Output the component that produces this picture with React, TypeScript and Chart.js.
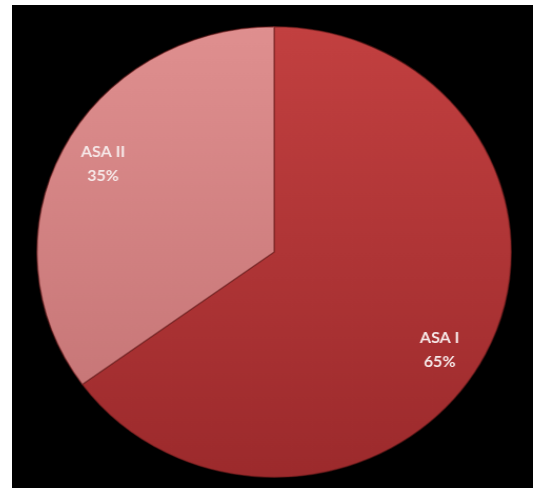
import React, { useEffect, useRef } from "react";
import { Chart, registerables } from "chart.js";

Chart.register(...registerables);

const categories = ["ASA I", "ASA II"];
const values = [65, 35];
const percentLabels = ["65%", "35%"];
const topColors = ["#c24040", "#df8f8f"];
const bottomColors = ["#9c2a2c", "#c27172"];

const CANVAS_W = 495;
const CANVAS_H = 483;
const CSS_W = 521;
const SX = CSS_W / CANVAS_W;

const labelPlugin = {
  id: "sliceLabels",
  afterDatasetsDraw(chart: any) {
    const ctx = chart.ctx;
    const meta = chart.getDatasetMeta(0);
    const nudge = [0.084, 0.028];
    ctx.save();
    ctx.fillStyle = "#f6e8e8";
    ctx.font = "bold 16px Lato, 'Open Sans', sans-serif";
    ctx.textAlign = "center";
    ctx.textBaseline = "middle";
    meta.data.forEach((arc: any, i: number) => {
      const p = arc.getProps(["x", "y", "startAngle", "endAngle", "outerRadius"], true);
      const mid = (p.startAngle + p.endAngle) / 2 + nudge[i];
      const r = p.outerRadius * 0.822;
      const cx = p.x + Math.cos(mid) * r;
      const cy = p.y + Math.sin(mid) * r;
      ctx.save();
      ctx.translate(cx, cy);
      ctx.scale(1 / SX, 1);
      ctx.fillText(categories[i], 0, -12);
      ctx.fillText(percentLabels[i], 0, 12);
      ctx.restore();
    });
    ctx.restore();
  },
};

export default function App() {
  const ref = useRef<HTMLCanvasElement>(null);
  useEffect(() => {
    if (!ref.current) return;
    const chart = new Chart(ref.current, {
      type: "pie",
      data: {
        labels: categories,
        datasets: [
          {
            data: values,
            backgroundColor: (c: any) => {
              const area = c.chart.chartArea;
              const i = c.dataIndex;
              if (!area) return topColors[i];
              const g = c.chart.ctx.createLinearGradient(0, area.top, 0, area.bottom);
              g.addColorStop(0, topColors[i]);
              g.addColorStop(1, bottomColors[i]);
              return g;
            },
            borderColor: "rgba(110,30,30,0.55)",
            borderWidth: 1.5,
          },
        ],
      },
      options: {
        responsive: false,
        animation: false,
        layout: { padding: { left: 23, right: 20, top: 21, bottom: 10 } },
        plugins: {
          legend: { display: false },
          tooltip: { enabled: false },
        },
      },
      plugins: [labelPlugin],
    });
    return () => chart.destroy();
  }, []);
  return (
    <div
      style={{
        position: "fixed",
        left: 12,
        top: 5,
        width: 540,
        height: 500,
        background: "#000",
      }}
    >
      <canvas
        ref={ref}
        width={CANVAS_W}
        height={CANVAS_H}
        style={{ display: "block", width: CSS_W + "px", height: CANVAS_H + "px" }}
      />
    </div>
  );
}
